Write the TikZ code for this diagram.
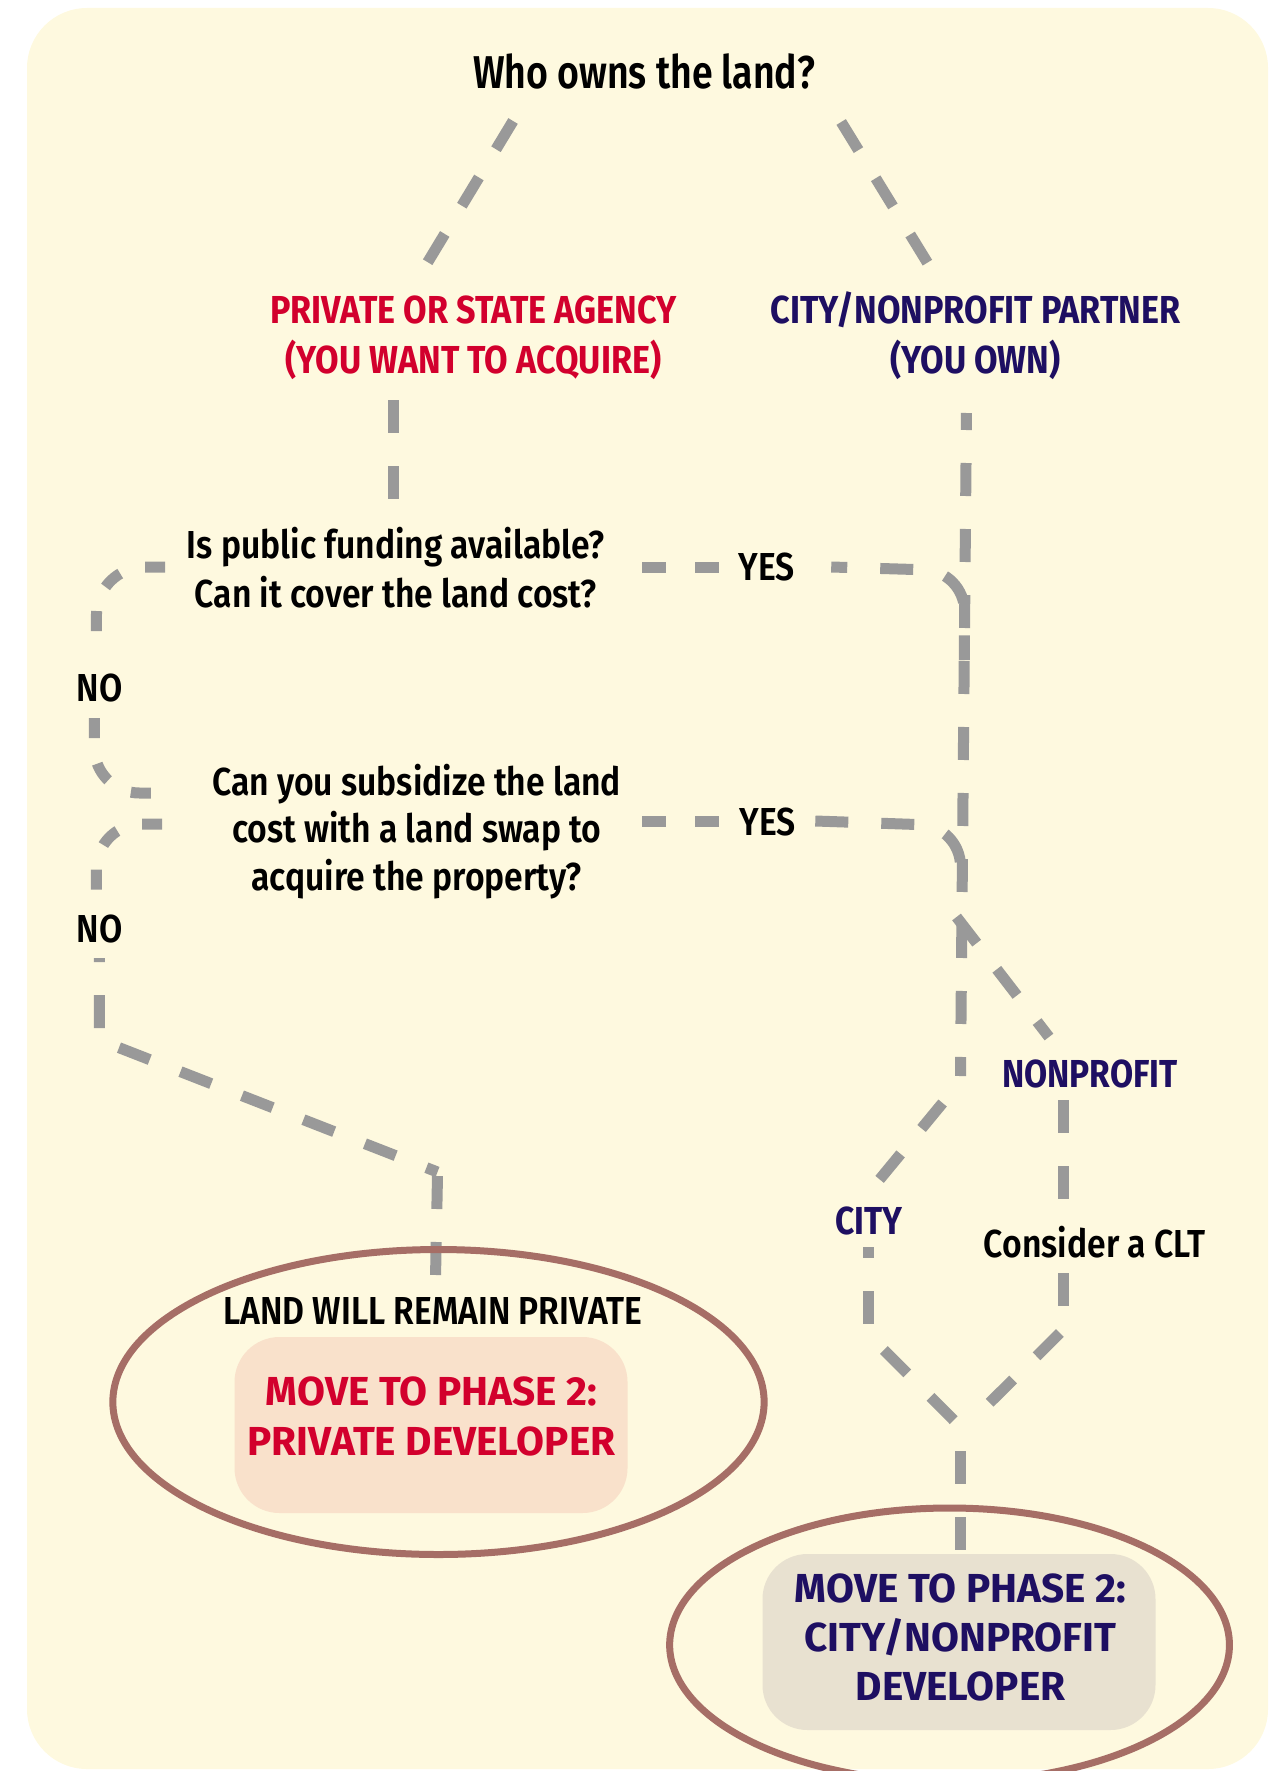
\documentclass[tikz,border=0pt]{standalone}
\usepackage{fontspec}
\setmainfont{Fira Sans}
\IfFontExistsTF{Fira Sans SemiBold}{%
  \newfontfamily\fmedX{Fira Sans SemiBold}[FakeStretch=0.864]\newcommand\fmed{\fmedX}%
  \newfontfamily\ftitX{Fira Sans SemiBold}[FakeStretch=0.815]\newcommand\ftit{\ftitX}}{%
  \newfontfamily\fmedX{Fira Sans}[FakeStretch=0.864]\newcommand\fmed{\fmedX\bfseries}%
  \newfontfamily\ftitX{Fira Sans}[FakeStretch=0.815]\newcommand\ftit{\ftitX\bfseries}}
\newfontfamily\fheadX{Fira Sans}[FakeStretch=0.875]
\newfontfamily\fnpX{Fira Sans}[FakeStretch=0.86]
\newfontfamily\fboldX{Fira Sans}[FakeStretch=1.0]
\definecolor{bgc}{HTML}{FEF9DF}
\definecolor{redc}{HTML}{D2002D}
\definecolor{navyc}{HTML}{1E0F62}
\definecolor{dgray}{HTML}{999999}
\definecolor{ellc}{HTML}{A66E66}
\definecolor{lboxc}{HTML}{F9E1CB}
\definecolor{rboxc}{HTML}{E8E1D0}
\begin{document}
\begin{tikzpicture}[x=1pt,y=-1pt,
  dl/.style={draw=dgray,line width=11pt,dash pattern=on 33pt off 33pt},
  yesdash/.style={dl,dash pattern=on 24pt off 29pt},
  nodash/.style={dl,dash pattern=on 20pt off 26pt},
  txt/.style={inner sep=0pt,anchor=base,font=\fmed\fontsize{39}{49}\selectfont},
  head/.style={inner sep=0pt,anchor=base,font=\fheadX\bfseries\fontsize{39}{50}\selectfont},
  lab/.style={inner sep=0pt,anchor=base,text=navyc,font=\fnpX\bfseries\fontsize{39}{50}\selectfont},
  boxtxt/.style={inner sep=0pt,anchor=base,font=\fboldX\bfseries\fontsize{40.5}{50}\selectfont},
  ell/.style={draw=ellc,line width=7pt},
  box/.style={rounded corners=45pt,inner sep=0pt}
]
\useasboundingbox (0,0) rectangle (1274,1771);
\fill[bgc,rounded corners=60pt] (27,8) rectangle (1268,1769);

\begin{scope}[xscale=0.9943]
% boxes
\node[box,fill=lboxc,minimum width=393pt,minimum height=176pt] (pbox) at (433.5,1425) {};
\node[box,fill=rboxc,minimum width=393pt,minimum height=176pt] (cbox) at (964.5,1642) {};

% text
\node[txt,font=\ftit\fontsize{46}{50}\selectfont] (title) at (648,89) {Who owns the land?};
\node[head,text=redc] (priv) at (476,323) {\begin{tabular}[t]{@{}c@{}}PRIVATE OR STATE AGENCY\\(YOU WANT TO ACQUIRE)\end{tabular}};
\node[head,text=navyc] (city) at (981,323) {\begin{tabular}[t]{@{}c@{}}CITY/NONPROFIT PARTNER\\(YOU OWN)\end{tabular}};
\node[txt] (q1) at (398,558) {\begin{tabular}[t]{@{}c@{}}Is public funding available?\\Can it cover the land cost?\end{tabular}};
\node[txt,font=\fmed\fontsize{39}{47.5}\selectfont] (q2) at (419,795) {\begin{tabular}[t]{@{}c@{}}Can you subsidize the land\\cost with a land swap to\\acquire the property?\end{tabular}};
\node[txt] (yes1) at (771,580) {YES};
\node[txt] (yes2) at (772,835) {YES};
\node[txt] (no1) at (100,701) {NO};
\node[txt] (no2) at (100,942) {NO};
\node[lab] (np) at (1096,1087) {NONPROFIT};
\node[lab] (ct) at (874,1234) {CITY};
\node[txt] (clt) at (1101,1257) {Consider a CLT};
\node[txt] (remain) at (435,1324) {LAND WILL REMAIN PRIVATE};
\node[boxtxt,text=redc] (ptxt) at (434,1405) {\begin{tabular}[t]{@{}c@{}}MOVE TO PHASE 2:\\PRIVATE DEVELOPER\end{tabular}};
\node[boxtxt,text=navyc,font=\fboldX\bfseries\fontsize{40.5}{49}\selectfont] (ctxt) at (966,1602) {\begin{tabular}[t]{@{}c@{}}MOVE TO PHASE 2:\\CITY/NONPROFIT\\DEVELOPER\end{tabular}};

% connectors
\draw[dl] (516,121) -- (426,269);
\draw[dl] (846,122) -- (936,268);
\draw[dl] (396,400) -- (396,501);
\draw[dl,dash phase=16pt] (972,413) -- (966,1076);
\draw[yesdash] (646,567) -- (723,567);
\draw[dl,rounded corners=40pt,dash phase=17pt] (836,567) -- (970,571) -- (970,660);
\draw[yesdash] (646,821) -- (723,821);
\draw[dl,rounded corners=40pt] (820,821) -- (966,826) -- (966,890);
\draw[dl] (962,917) -- (1055,1037);
\draw[dl] (1070,1100) -- (1070,1202);
\draw[dl] (1070,1273) -- (1070,1306);
\draw[dl] (1066,1333) -- (988,1410);
\draw[dl] (948,1103) -- (880,1185);
\draw[dl,dash phase=22pt] (873,1247) -- (873,1325);
\draw[dl] (889,1350) -- (966,1427);
\draw[dl] (966,1451) -- (966,1553);
\draw[nodash,rounded corners=48pt] (166,567) -- (97,567) -- (97,650);
\draw[nodash,rounded corners=45pt] (95,718) -- (95,793) -- (163,793);
\draw[nodash,rounded corners=45pt] (163,824) -- (97,824) -- (97,890);
\draw[dl,dash phase=29pt] (100,958) -- (100,1040) -- (440,1172);
\draw[dl] (440,1176) -- (438,1278);

% ellipses
\draw[ell] (441,1402) ellipse [x radius=327.5pt, y radius=152.5pt];
\draw[ell] (955,1645) ellipse [x radius=281.5pt, y radius=137pt];
\end{scope}
\end{tikzpicture}
\end{document}
